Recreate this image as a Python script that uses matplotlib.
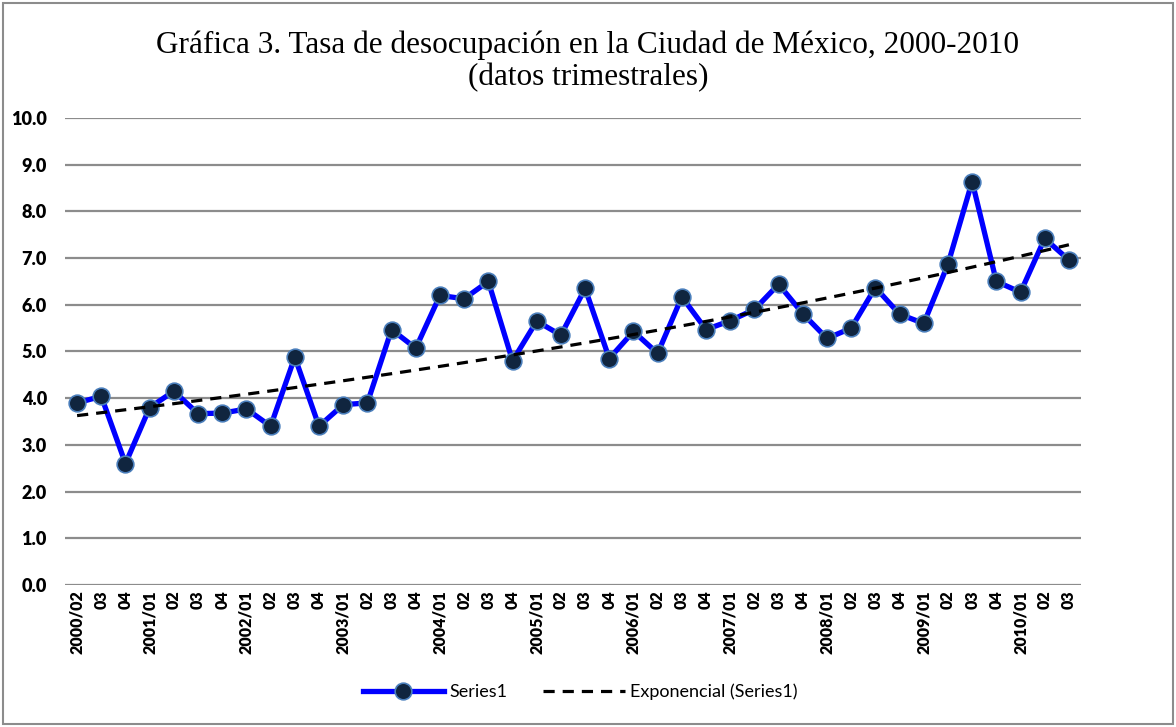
import matplotlib.pyplot as plt
import numpy as np
from matplotlib.patches import Rectangle

# trimestres 2000/02 - 2010/03
etiquetas = ['2000/02', '03', '04',
             '2001/01', '02', '03', '04',
             '2002/01', '02', '03', '04',
             '2003/01', '02', '03', '04',
             '2004/01', '02', '03', '04',
             '2005/01', '02', '03', '04',
             '2006/01', '02', '03', '04',
             '2007/01', '02', '03', '04',
             '2008/01', '02', '03', '04',
             '2009/01', '02', '03', '04',
             '2010/01', '02', '03']
tasa = [3.90, 4.04, 2.60,
        3.80, 4.15, 3.67, 3.68,
        3.77, 3.40, 4.88, 3.40,
        3.86, 3.90, 5.47, 5.07,
        6.20, 6.13, 6.50, 4.80,
        5.65, 5.35, 6.35, 4.85,
        5.43, 4.96, 6.17, 5.47,
        5.66, 5.90, 6.44, 5.81,
        5.28, 5.50, 6.37, 5.80,
        5.60, 6.87, 8.64, 6.50,
        6.27, 7.42, 6.96]

x = np.arange(len(tasa))
# linea de tendencia exponencial (como en Excel)
b, a = np.polyfit(x + 1, np.log(tasa), 1)
tend = np.exp(a) * np.exp(b * (x + 1))

fig = plt.figure(figsize=(11.76, 7.27), dpi=100)
ax = fig.add_axes([65/1176, 1 - 585/727, (1081-65)/1176, (585-118)/727])

for v in np.arange(0, 11, 1):
    ax.axhline(v, color='#8c8c8c', linewidth=1.6, zorder=1)

ax.plot(x, tasa, color='#0000ff', linewidth=3.8, marker='o', markersize=12,
        markerfacecolor='#10253f', markeredgecolor='#4a7ebb', markeredgewidth=1.2,
        label='Series1', zorder=3)
ax.plot(x, tend, color='black', linestyle=(0, (3.5, 2.5)), linewidth=2.3,
        label='Exponencial (Series1)', zorder=4)

ax.set_xlim(-0.5, len(tasa) - 0.5)
ax.set_ylim(0, 10)
ax.set_yticks(np.arange(0, 11, 1))
ax.set_yticklabels(['%.1f' % v for v in np.arange(0, 11, 1)],
                   fontfamily='Lato', fontweight='heavy', fontsize=13)
ax.set_xticks(x)
ax.set_xticklabels(etiquetas, rotation=90, fontfamily='Lato', fontweight='heavy', fontsize=11.5)
ax.tick_params(axis='y', length=0, pad=13)
ax.tick_params(axis='x', length=0, pad=4)
for s in ax.spines.values():
    s.set_visible(False)

fig.text(0.5, 1 - 45/727, 'Gráfica 3. Tasa de desocupación en la Ciudad de México, 2000-2010',
         ha='center', va='center', fontfamily='Liberation Serif', fontsize=22.5)
fig.text(0.5, 1 - 78/727, '(datos trimestrales)',
         ha='center', va='center', fontfamily='Liberation Serif', fontsize=22.5)

fig.legend(loc='center', bbox_to_anchor=(580/1176, 1 - 692/727), ncol=2, frameon=False,
           prop={'family': 'Lato', 'size': 13}, handlelength=4.5, columnspacing=2.0,
           handletextpad=0.3)

fig.patches.append(Rectangle((3/1176, 3/727), 1 - 6/1176, 1 - 6/727, transform=fig.transFigure,
                             fill=False, edgecolor='#8c8c8c', linewidth=1.5))

plt.savefig('out.png', dpi=100)
